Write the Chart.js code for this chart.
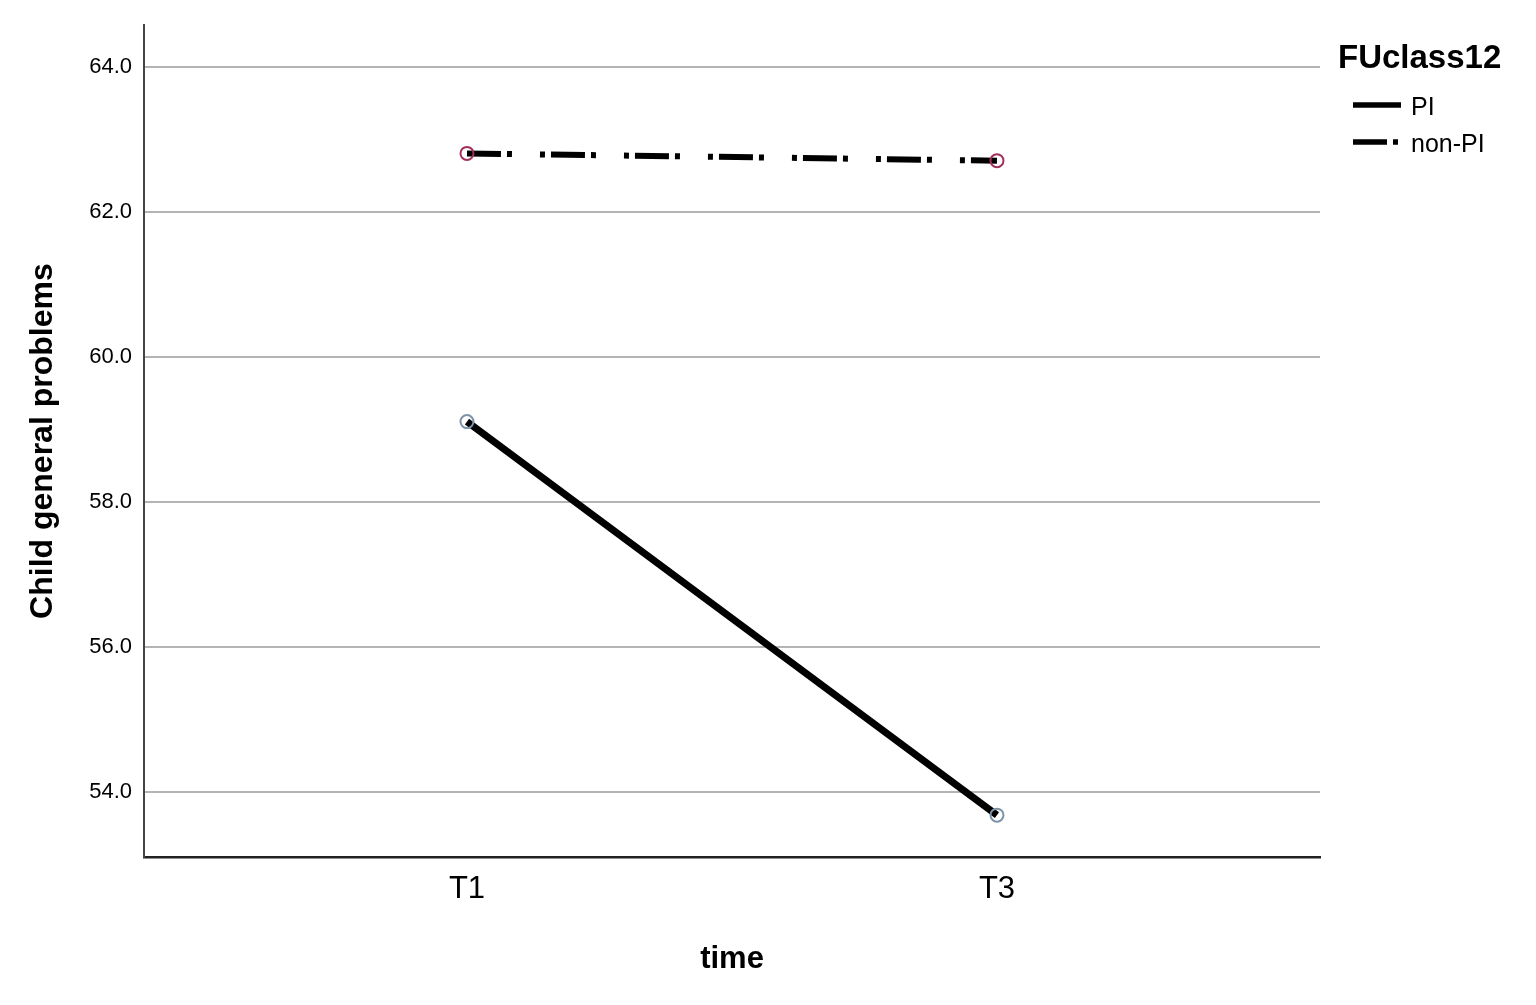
<!DOCTYPE html>
<html>
<head>
<meta charset="utf-8">
<title>Child general problems</title>
<style>
  html, body { margin: 0; padding: 0; background: #fff; }
  #wrap { width: 1536px; height: 1005px; }
</style>
<script src="https://cdn.jsdelivr.net/npm/chart.js@4/dist/chart.umd.min.js"></script>
</head>
<body>
<div id="wrap"><canvas id="myChart" width="1536" height="1005"></canvas></div>
<script>
// categories on the time axis and where they sit
var timeLabels = ['T1', 'T3'];
var timePos = [1, 2];

// estimated marginal means
var piValues = [59.11, 53.68];
var nonPiValues = [62.81, 62.71];

var yTicks = [54, 56, 58, 60, 62, 64];
var groupNames = ['PI', 'non-PI'];

function toPoints(vals) {
  return vals.map(function (v, i) { return { x: timePos[i], y: v }; });
}

var nonPiDash = [34, 6, 5, 28, 5, 6];

// legend on the right, drawn by hand like the SPSS one
var sideLegend = {
  id: 'sideLegend',
  afterDraw: function (chart) {
    var c = chart.ctx;
    c.save();
    c.fillStyle = '#000';
    c.textBaseline = 'alphabetic';
    c.font = 'bold 33px "Liberation Sans", Arial, sans-serif';
    c.fillText('FUclass12', 1338, 68);

    c.strokeStyle = '#000';
    c.lineWidth = 5.5;
    c.lineCap = 'butt';
    c.beginPath();
    c.moveTo(1353, 105); c.lineTo(1401, 105);
    c.stroke();

    c.setLineDash(nonPiDash);
    c.beginPath();
    c.moveTo(1353, 142); c.lineTo(1400, 142);
    c.stroke();
    c.setLineDash([]);

    c.font = '25px "Liberation Sans", Arial, sans-serif';
    c.textBaseline = 'middle';
    c.fillText(groupNames[0], 1411, 108);
    c.fillText(groupNames[1], 1411, 145);
    c.restore();
  }
};

var ctx = document.getElementById('myChart').getContext('2d');
var chart = new Chart(ctx, {
  type: 'line',
  data: {
    datasets: [{
      label: groupNames[0],
      data: toPoints(piValues),
      borderColor: '#000',
      borderWidth: 7,
      pointRadius: 6.5,
      pointBorderWidth: 2,
      pointBorderColor: '#7d93a8',
      pointBackgroundColor: 'rgba(0,0,0,0)'
    }, {
      label: groupNames[1],
      data: toPoints(nonPiValues),
      borderColor: '#000',
      borderWidth: 6,
      borderDash: nonPiDash,
      borderCapStyle: 'butt',
      pointRadius: 6.5,
      pointBorderWidth: 2,
      pointBorderColor: '#a3305c',
      pointBackgroundColor: 'rgba(0,0,0,0)'
    }]
  },
  options: {
    responsive: false,
    animation: false,
    layout: { padding: { top: 25, right: 216, bottom: 0, left: 0 } },
    plugins: {
      legend: { display: false },
      tooltip: { enabled: false }
    },
    scales: {
      x: {
        type: 'linear',
        min: 0.3906,
        max: 2.6095,
        afterBuildTicks: function (scale) {
          scale.ticks = timePos.map(function (p) { return { value: p }; });
        },
        afterFit: function (scale) { scale.height = 148; },
        grid: { display: false, drawTicks: false },
        border: { display: true, color: '#222', width: 2.5 },
        ticks: {
          padding: 14,
          color: '#000',
          font: { family: '"Liberation Sans", Arial, sans-serif', size: 31 },
          callback: function (v) {
            var i = timePos.indexOf(v);
            return i >= 0 ? timeLabels[i] : '';
          }
        },
        title: {
          display: true,
          text: 'time',
          color: '#000',
          padding: { top: 0, bottom: 27 },
          font: { family: '"Liberation Sans", Arial, sans-serif', size: 31, weight: 'bold' }
        }
      },
      y: {
        min: 53.103,
        max: 64.579,
        afterBuildTicks: function (scale) {
          scale.ticks = yTicks.map(function (t) { return { value: t }; });
        },
        afterFit: function (scale) { scale.width = 144; },
        grid: { color: '#b4b4b4', lineWidth: 2, drawTicks: false },
        border: { display: true, color: '#444', width: 2 },
        ticks: {
          padding: 12,
          color: '#000',
          font: { family: '"Liberation Sans", Arial, sans-serif', size: 22 },
          callback: function (v) { return v.toFixed(1); }
        },
        title: {
          display: true,
          text: 'Child general problems',
          color: '#000',
          padding: { top: 24, bottom: 0 },
          font: { family: '"Liberation Sans", Arial, sans-serif', size: 32, weight: 'bold' }
        }
      }
    }
  },
  plugins: [sideLegend]
});
</script>
</body>
</html>
